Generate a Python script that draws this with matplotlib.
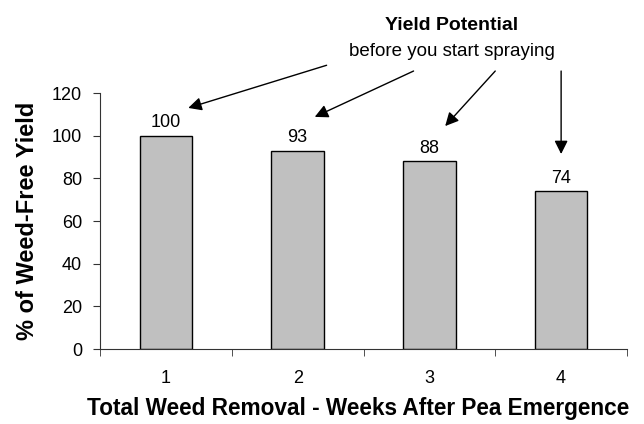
import matplotlib.pyplot as plt
from matplotlib.ticker import FixedLocator

weeks = ["1", "2", "3", "4"]
yield_pct = [100, 93, 88, 74]
y_ticks = [0, 20, 40, 60, 80, 100, 120]

# arrow tips (offset above each bar) and tails near the callout text
tip_dx = [0.17, 0.13, 0.12, 0.0]
tip_dy = [13, 15.8, 16.5, 17.4]
tail_x = [2.22, 2.88, 3.50, 4.0]
tail_y = [133, 130.3, 130.3, 130.3]

plt.rcParams['font.family'] = ['Liberation Sans', 'DejaVu Sans']

fig = plt.figure(figsize=(6.44, 4.24), dpi=100)
ax = fig.add_axes([100/644, 1-349/424, 527/644, 256/424])

x = list(range(1, len(weeks) + 1))
ax.bar(x, yield_pct, width=0.4, color='#c0c0c0', edgecolor='black', linewidth=1)
for xi, v in zip(x, yield_pct):
    ax.annotate(str(v), (xi, v), xytext=(0, 3), textcoords='offset points',
                ha='center', va='bottom', fontsize=13)

ax.set_xlim(0.5, 4.5)
ax.set_ylim(0, 120)
ax.set_yticks(y_ticks)
ax.set_xticks(x)
ax.set_xticklabels(weeks)
ax.xaxis.set_minor_locator(FixedLocator([0.5, 1.5, 2.5, 3.5, 4.5]))
ax.tick_params(axis='x', which='major', length=0, pad=15, labelsize=13)
ax.tick_params(axis='x', which='minor', length=5, direction='out', color='#333333')
ax.tick_params(axis='y', length=5, direction='out', labelsize=13, color='#333333', pad=8)
for s in ['top', 'right']:
    ax.spines[s].set_visible(False)
for s in ['left', 'bottom']:
    ax.spines[s].set_color('#333333')

ax.set_ylabel("% of Weed-Free Yield", fontsize=17, fontweight='bold', labelpad=9)
ax.set_xlabel("Total Weed Removal - Weeks After Pea Emergence", fontsize=16.3,
              fontweight='bold', labelpad=7)
ax.xaxis.label.set_x(0.49)

for xi, v, dx, dy, tx, ty in zip(x, yield_pct, tip_dx, tip_dy, tail_x, tail_y):
    ax.annotate("", xy=(xi + dx, v + dy), xytext=(tx, ty),
                arrowprops=dict(arrowstyle='-|>', color='black', lw=1,
                                mutation_scale=20, shrinkA=0, shrinkB=0),
                annotation_clip=False)

fig.text(452/644, 1-26/424, "Yield Potential", ha='center', va='center',
         fontsize=14, fontweight='bold')
fig.text(452/644, 1-52/424, "before you start spraying", ha='center', va='center',
         fontsize=13.5)

fig.savefig("out.png", dpi=100)
